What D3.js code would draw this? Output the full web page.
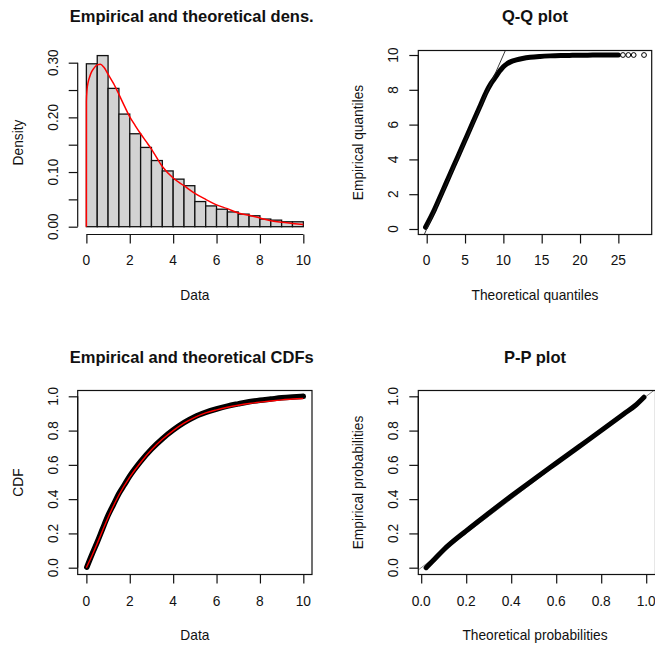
<!DOCTYPE html>
<html>
<head>
<meta charset="utf-8">
<script src="https://cdn.jsdelivr.net/npm/d3@7"></script>
<style>
  html, body { margin: 0; padding: 0; background: #fff; }
  svg { display: block; font-family: "Liberation Sans", Arial, Helvetica, sans-serif; }
</style>
</head>
<body>
<svg id="chart" width="655" height="645"></svg>
<script>
// ---- histogram of the data (density scale) ----
const histBreaks  = [0, 0.5, 1, 1.5, 2, 2.5, 3, 3.5, 4, 4.5, 5, 5.5, 6, 6.5, 7, 7.5, 8, 8.5, 9, 9.5, 10];
const histDensity = [0.298, 0.313, 0.253, 0.206, 0.170, 0.145, 0.121, 0.102, 0.087, 0.075,
                     0.046, 0.038, 0.032, 0.027, 0.023, 0.020, 0.014, 0.012, 0.009, 0.009];

// ---- fitted density curve ----
const densX = [0, 0.003, 0.03, 0.08, 0.15, 0.25, 0.35, 0.5, 0.65, 0.8, 1.0, 1.25, 1.5, 1.75, 2.0,
               2.25, 2.5, 2.75, 3.0, 3.5, 4.0, 4.5, 5.0, 5.5, 6.0, 6.5, 7.0, 7.5, 8.0, 8.5, 9.0, 9.5, 10];
const densY = [0, 0.229, 0.250, 0.264, 0.274, 0.284, 0.290, 0.296, 0.297, 0.292, 0.279, 0.262, 0.242,
               0.221, 0.201, 0.185, 0.170, 0.156, 0.142, 0.110, 0.089, 0.075, 0.061, 0.050, 0.040,
               0.033, 0.025, 0.021, 0.016, 0.011, 0.008, 0.006, 0.004];

// ---- empirical CDF (dense point cloud) ----
const ecdfX = [0.02, 0.25, 0.5, 0.75, 1, 1.25, 1.5, 1.75, 2, 2.5, 3, 3.5, 4, 4.5, 5, 5.5, 6,
               6.5, 7, 7.5, 8, 8.5, 9, 9.5, 10];
const ecdfY = [0.003, 0.075, 0.149, 0.228, 0.305, 0.369, 0.432, 0.483, 0.535, 0.620, 0.692, 0.752,
               0.803, 0.846, 0.881, 0.906, 0.926, 0.943, 0.956, 0.968, 0.977, 0.984, 0.991, 0.996, 1.0];

// ---- fitted CDF ----
const tcdfX = [0, 0.25, 0.5, 0.75, 1, 1.5, 2, 2.5, 3, 3.5, 4, 4.5, 5, 5.5, 6, 6.5, 7, 7.5, 8, 8.5, 9, 9.5, 10];
const tcdfY = [0, 0.068, 0.142, 0.218, 0.293, 0.424, 0.528, 0.614, 0.688, 0.749, 0.800, 0.843, 0.877,
               0.903, 0.921, 0.936, 0.948, 0.958, 0.966, 0.973, 0.979, 0.984, 0.987];

// ---- Q-Q plot: theoretical vs empirical quantiles ----
const qqTheo = [-0.15, 1, 2, 3, 4, 5, 6, 7, 7.8, 8.3, 8.7, 9.2, 9.6, 10.0, 10.5, 11.0, 11.7, 12.5,
                13.5, 14.8, 16.1, 17.5, 19, 21, 23, 25.0];
const qqEmp  = [0.10, 1.10, 2.10, 3.10, 4.10, 5.10, 6.10, 7.10, 7.90, 8.30, 8.56, 8.88, 9.12, 9.33,
                9.50, 9.62, 9.72, 9.80, 9.87, 9.92, 9.95, 9.97, 9.98, 9.99, 10.0, 10.0];
const qqTailTheo = [25.6, 26.3, 27.0, 28.35];
const qqTailEmp  = [10.0, 10.0, 10.0, 10.0];

// ---- P-P plot: theoretical vs empirical probabilities ----
const ppTheo = [0.022, 0.05, 0.1, 0.2, 0.3, 0.4, 0.5, 0.6, 0.7, 0.8, 0.9, 0.95, 0.99];
const ppEmp  = [0.0, 0.037, 0.105, 0.215, 0.318, 0.418, 0.515, 0.610, 0.705, 0.800, 0.897, 0.945, 0.995];

// ---- axis ticks and labels ----
const dataTicks   = [0, 2, 4, 6, 8, 10];
const dataLabels  = ["0", "2", "4", "6", "8", "10"];
const densTicks   = [0, 0.05, 0.10, 0.15, 0.20, 0.25, 0.30];
const densLabels  = ["0.00", "", "0.10", "", "0.20", "", "0.30"];
const qqXTicks    = [0, 5, 10, 15, 20, 25];
const qqXLabels   = ["0", "5", "10", "15", "20", "25"];
const qqYTicks    = [0, 2, 4, 6, 8, 10];
const qqYLabels   = ["0", "2", "4", "6", "8", "10"];
const probTicks   = [0, 0.2, 0.4, 0.6, 0.8, 1.0];
const probLabels  = ["0.0", "0.2", "0.4", "0.6", "0.8", "1.0"];

const titles = ["Empirical and theoretical dens.", "Q-Q plot", "Empirical and theoretical CDFs", "P-P plot"];

// ---- layout ----
const INK = "#111";
const RED = "#ff0000";
const rows = {
  top:    { y0: 50.5,  y1: 234.5, title: 21.7,  tickLab: 265.3, axTitle: 300 },
  bottom: { y0: 390.5, y1: 574.5, title: 363.3, tickLab: 606,   axTitle: 640 }
};
const cols = {
  left:  { x0: 77.7,  x1: 312,   titleX: 191.7 },
  right: { x0: 418.3, x1: 651.7, titleX: 535 }
};

const svg = d3.select("#chart");
svg.append("rect").attr("width", 655).attr("height", 645).attr("fill", "#fff");

let clipCount = 0;

function panel(o) {
  const row = rows[o.row], col = cols[o.col];
  const xRight = o.xRight ?? col.x1;
  const x = d3.scaleLinear().domain(o.xDomain).range([col.x0, xRight]);
  const y = d3.scaleLinear().domain(o.yDomain).range([row.y1, row.y0]);
  const g = svg.append("g");

  const clipId = "clip" + (clipCount++);
  g.append("clipPath").attr("id", clipId)
    .append("rect").attr("x", col.x0).attr("y", row.y0)
    .attr("width", xRight - col.x0).attr("height", row.y1 - row.y0);
  const plot = g.append("g").attr("clip-path", `url(#${clipId})`);

  // bottom axis
  const ax = g.append("g").attr("transform", `translate(0,${row.y1})`)
    .call(d3.axisBottom(x).tickValues(o.xTicks).tickSize(9).tickSizeOuter(0).tickFormat(""));
  ax.select(".domain").remove();
  ax.append("line")
    .attr("x1", x(o.xTicks[0])).attr("x2", x(o.xTicks[o.xTicks.length - 1]))
    .attr("stroke", INK).attr("stroke-width", 1.2);
  ax.selectAll(".tick line").attr("stroke", INK).attr("stroke-width", 1.2);

  // left axis
  const ay = g.append("g").attr("transform", `translate(${col.x0},0)`)
    .call(d3.axisLeft(y).tickValues(o.yTicks).tickSize(9).tickSizeOuter(0).tickFormat(""));
  ay.select(".domain").remove();
  ay.append("line")
    .attr("y1", y(o.yTicks[0])).attr("y2", y(o.yTicks[o.yTicks.length - 1]))
    .attr("stroke", INK).attr("stroke-width", 1.2);
  ay.selectAll(".tick line").attr("stroke", INK).attr("stroke-width", 1.2);

  // tick labels
  g.append("g").selectAll("text").data(o.xTicks).join("text")
    .attr("x", d => x(d)).attr("y", row.tickLab)
    .attr("text-anchor", "middle").attr("font-size", 13.75).attr("fill", INK)
    .text((d, i) => o.xLabels[i]);
  g.append("g").selectAll("text").data(o.yTicks).join("text")
    .attr("transform", d => `translate(${col.x0 - 20},${y(d)}) rotate(-90)`)
    .attr("text-anchor", "middle").attr("font-size", 13.75).attr("fill", INK)
    .text((d, i) => o.yLabels[i]);

  // box
  if (o.box) {
    g.append("rect")
      .attr("x", col.x0).attr("y", row.y0)
      .attr("width", xRight - col.x0).attr("height", row.y1 - row.y0)
      .attr("fill", "none").attr("stroke", INK).attr("stroke-width", 1.2);
  }

  // titles
  g.append("text").attr("x", col.titleX).attr("y", row.title)
    .attr("text-anchor", "middle").attr("font-size", 16.5).attr("font-weight", "bold")
    .attr("fill", INK).text(o.title);
  g.append("text").attr("x", (col.x0 + col.x1) / 2).attr("y", row.axTitle)
    .attr("text-anchor", "middle").attr("font-size", 13.75).attr("fill", INK)
    .text(o.xTitle);
  g.append("text")
    .attr("transform", `translate(${col.x0 - 55},${(row.y0 + row.y1) / 2}) rotate(-90)`)
    .attr("text-anchor", "middle").attr("font-size", 13.75).attr("fill", INK)
    .text(o.yTitle);

  return { g, plot, x, y };
}

// thick band for a dense run of overlapping point symbols
function band(p, xs, ys, width) {
  const pts = xs.map((v, i) => [v, ys[i]]);
  p.plot.append("path").datum(pts)
    .attr("d", d3.line().x(d => p.x(d[0])).y(d => p.y(d[1])).curve(d3.curveMonotoneX))
    .attr("fill", "none").attr("stroke", "#000").attr("stroke-width", width)
    .attr("stroke-linecap", "round").attr("stroke-linejoin", "round");
}

// ---------- 1. density histogram ----------
const p1 = panel({
  row: "top", col: "left",
  xDomain: [-0.4, 10.4], yDomain: [-0.01427, 0.3223],
  xTicks: dataTicks, xLabels: dataLabels, yTicks: densTicks, yLabels: densLabels,
  title: titles[0], xTitle: "Data", yTitle: "Density", box: false
});
p1.g.insert("g", ":first-child").selectAll("rect").data(histDensity).join("rect")
  .attr("x", (d, i) => p1.x(histBreaks[i]))
  .attr("width", (d, i) => p1.x(histBreaks[i + 1]) - p1.x(histBreaks[i]))
  .attr("y", d => p1.y(d))
  .attr("height", d => p1.y(0) - p1.y(d))
  .attr("fill", "#d3d3d3").attr("stroke", INK).attr("stroke-width", 1.3);
p1.plot.append("path").datum(densX.map((v, i) => [v, densY[i]]))
  .attr("d", d3.line().x(d => p1.x(d[0])).y(d => p1.y(d[1])).curve(d3.curveMonotoneX))
  .attr("fill", "none").attr("stroke", RED).attr("stroke-width", 1.5);

// ---------- 2. Q-Q plot ----------
const p2 = panel({
  row: "top", col: "right",
  xDomain: [-1.096, 29.35], yDomain: [-0.316, 10.259],
  xTicks: qqXTicks, xLabels: qqXLabels, yTicks: qqYTicks, yLabels: qqYLabels,
  title: titles[1], xTitle: "Theoretical quantiles", yTitle: "Empirical quantiles", box: true
});
band(p2, qqTheo, qqEmp, 5);
p2.plot.append("g").selectAll("circle").data(qqTailTheo).join("circle")
  .attr("cx", d => p2.x(d)).attr("cy", (d, i) => p2.y(qqTailEmp[i])).attr("r", 2.4)
  .attr("fill", "none").attr("stroke", "#000").attr("stroke-width", 1);
p2.plot.append("line")
  .attr("x1", p2.x(-2)).attr("y1", p2.y(-2)).attr("x2", p2.x(12)).attr("y2", p2.y(12))
  .attr("stroke", "#222").attr("stroke-width", 0.9);

// ---------- 3. CDFs ----------
const p3 = panel({
  row: "bottom", col: "left",
  xDomain: [-0.4, 10.4], yDomain: [-0.0397, 1.0339],
  xTicks: dataTicks, xLabels: dataLabels, yTicks: probTicks, yLabels: probLabels,
  title: titles[2], xTitle: "Data", yTitle: "CDF", box: true
});
band(p3, ecdfX, ecdfY, 5.5);
p3.plot.append("path").datum(tcdfX.map((v, i) => [v, tcdfY[i]]))
  .attr("d", d3.line().x(d => p3.x(d[0])).y(d => p3.y(d[1])).curve(d3.curveMonotoneX))
  .attr("fill", "none").attr("stroke", RED).attr("stroke-width", 1.4);

// ---------- 4. P-P plot ----------
const p4 = panel({
  row: "bottom", col: "right", xRight: 655.5,
  xDomain: [-0.0129, 1.0413], yDomain: [-0.0397, 1.0339],
  xTicks: probTicks, xLabels: probLabels, yTicks: probTicks, yLabels: probLabels,
  title: titles[3], xTitle: "Theoretical probabilities", yTitle: "Empirical probabilities", box: true
});
p4.plot.append("line")
  .attr("x1", p4.x(-0.1)).attr("y1", p4.y(-0.1)).attr("x2", p4.x(1.1)).attr("y2", p4.y(1.1))
  .attr("stroke", "#777").attr("stroke-width", 0.9);
band(p4, ppTheo, ppEmp, 5);
</script>
</body>
</html>
